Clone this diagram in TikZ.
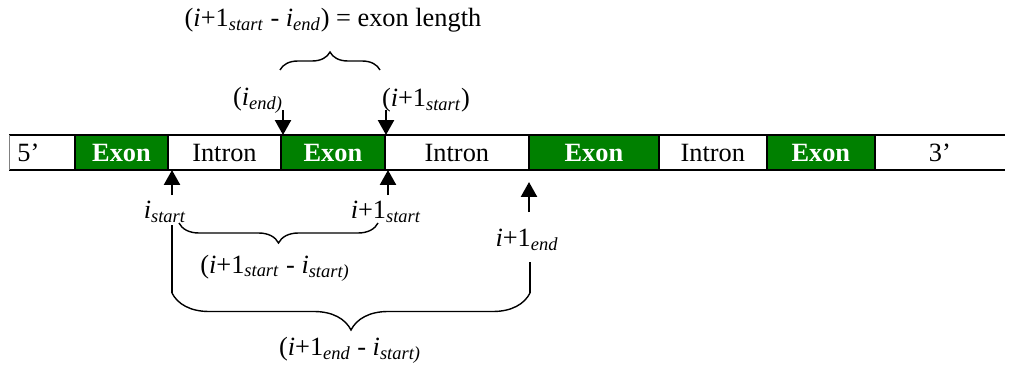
\documentclass[tikz,border=0pt]{standalone}
\usepackage{fontspec}
\setmainfont{Liberation Serif}
\usetikzlibrary{positioning,arrows.meta,decorations.pathreplacing}
\definecolor{exongreen}{RGB}{0,128,0}
\newcommand{\subtxt}[1]{\textsubscript{\textit{#1}}}
\newcommand{\picfont}{\fontsize{15pt}{18pt}\selectfont}
\tikzset{
  cell/.style={rectangle, minimum height=0.7cm, inner sep=0pt, outer sep=0pt},
  exon/.style={cell, draw=black, line width=0.8pt, fill=exongreen, text=white, font=\picfont\bfseries},
  intron/.style={cell},
  arr/.style={line width=1.4pt, -{Triangle[width=0.32cm,length=0.3cm]}},
  brc/.style={line width=0.8pt, decorate, decoration={brace, amplitude=#1}},
}
\begin{document}
\begin{tikzpicture}[x=0.02cm, y=-0.02cm, font=\picfont]
\useasboundingbox (0,0) rectangle (1024,365);
% the strip
\node (five) [cell, anchor=west, minimum width=1.32cm, text width=0.98cm, inner xsep=0.17cm, align=left] at (9,152.5) {5’};
\node (ex1) [exon, minimum width=1.86cm, right=0pt of five] {Exon};
\node (in1) [intron, minimum width=2.26cm, right=0pt of ex1] {Intron};
\node (ex2) [exon, minimum width=2.08cm, right=0pt of in1] {Exon};
\node (in2) [intron, minimum width=2.88cm, right=0pt of ex2] {Intron};
\node (ex3) [exon, minimum width=2.6cm, right=0pt of in2] {Exon};
\node (in3) [intron, minimum width=2.16cm, right=0pt of ex3] {Intron};
\node (ex4) [exon, minimum width=2.16cm, right=0pt of in3] {Exon};
\node (three) [cell, minimum width=2.6cm, right=0pt of ex4] {3’};
\draw [line width=1.1pt] (five.north west) -- (three.north east);
\draw [line width=1.1pt] (five.south west) -- (three.south east);
\draw [gray, line width=0.4pt] (five.north west) -- (five.south west);

% labels above
\node (len) at (333,20) {(\textit{i}+1\subtxt{start} - \textit{i}\subtxt{end}) = exon length};
\node (iend) at (258,100) {(\textit{i}\subtxt{end)}};
\node (ipsa) at (426,100) {(\textit{i}+1\subtxt{start})};

% labels below
\node (ist) at (165,212) {\textit{i}\subtxt{start}};
\node (ipsb) at (386,212) {\textit{i}+1\subtxt{start}};
\node (ipe) at (527,240) {\textit{i}+1\subtxt{end}};
\node (d1) at (275,268) {(\textit{i}+1\subtxt{start} - \textit{i}\subtxt{start)}};
\node (d2) at (350,350) {(\textit{i}+1\subtxt{end} - \textit{i}\subtxt{start)}};

% arrows
\coordinate (t1) at (283,110);
\coordinate (t2) at (386,110);
\coordinate (b1) at (172,195);
\coordinate (b2) at (388,195);
\coordinate (b3) at (529,212);
\coordinate (b3tip) at (529,182);
\draw [arr] (t1) -- (t1 |- ex2.north);
\draw [arr] (t2) -- (t2 |- ex2.north);
\draw [arr] (b1) -- (b1 |- in1.south);
\draw [arr] (b2) -- (b2 |- in2.south);
\draw [arr] (b3) -- (b3tip);

% braces
\coordinate (u1) at (280,70);
\coordinate (u2) at (380,70);
\draw [brc=0.36cm] (u1) -- (u2);
\coordinate (l1) at (179,223);
\coordinate (l2) at (378,223);
\draw [brc=0.4cm, decoration={mirror}] (l1) -- (l2);
\coordinate (s1) at (172,225);
\coordinate (s2) at (172,293);
\coordinate (e1) at (530,262);
\coordinate (e2) at (530,293);
\draw [line width=0.8pt] (s1) -- (s2);
\draw [line width=0.8pt] (e1) -- (e2);
\draw [brc=0.74cm, decoration={mirror}] (s2) -- (e2);
\end{tikzpicture}
\end{document}
